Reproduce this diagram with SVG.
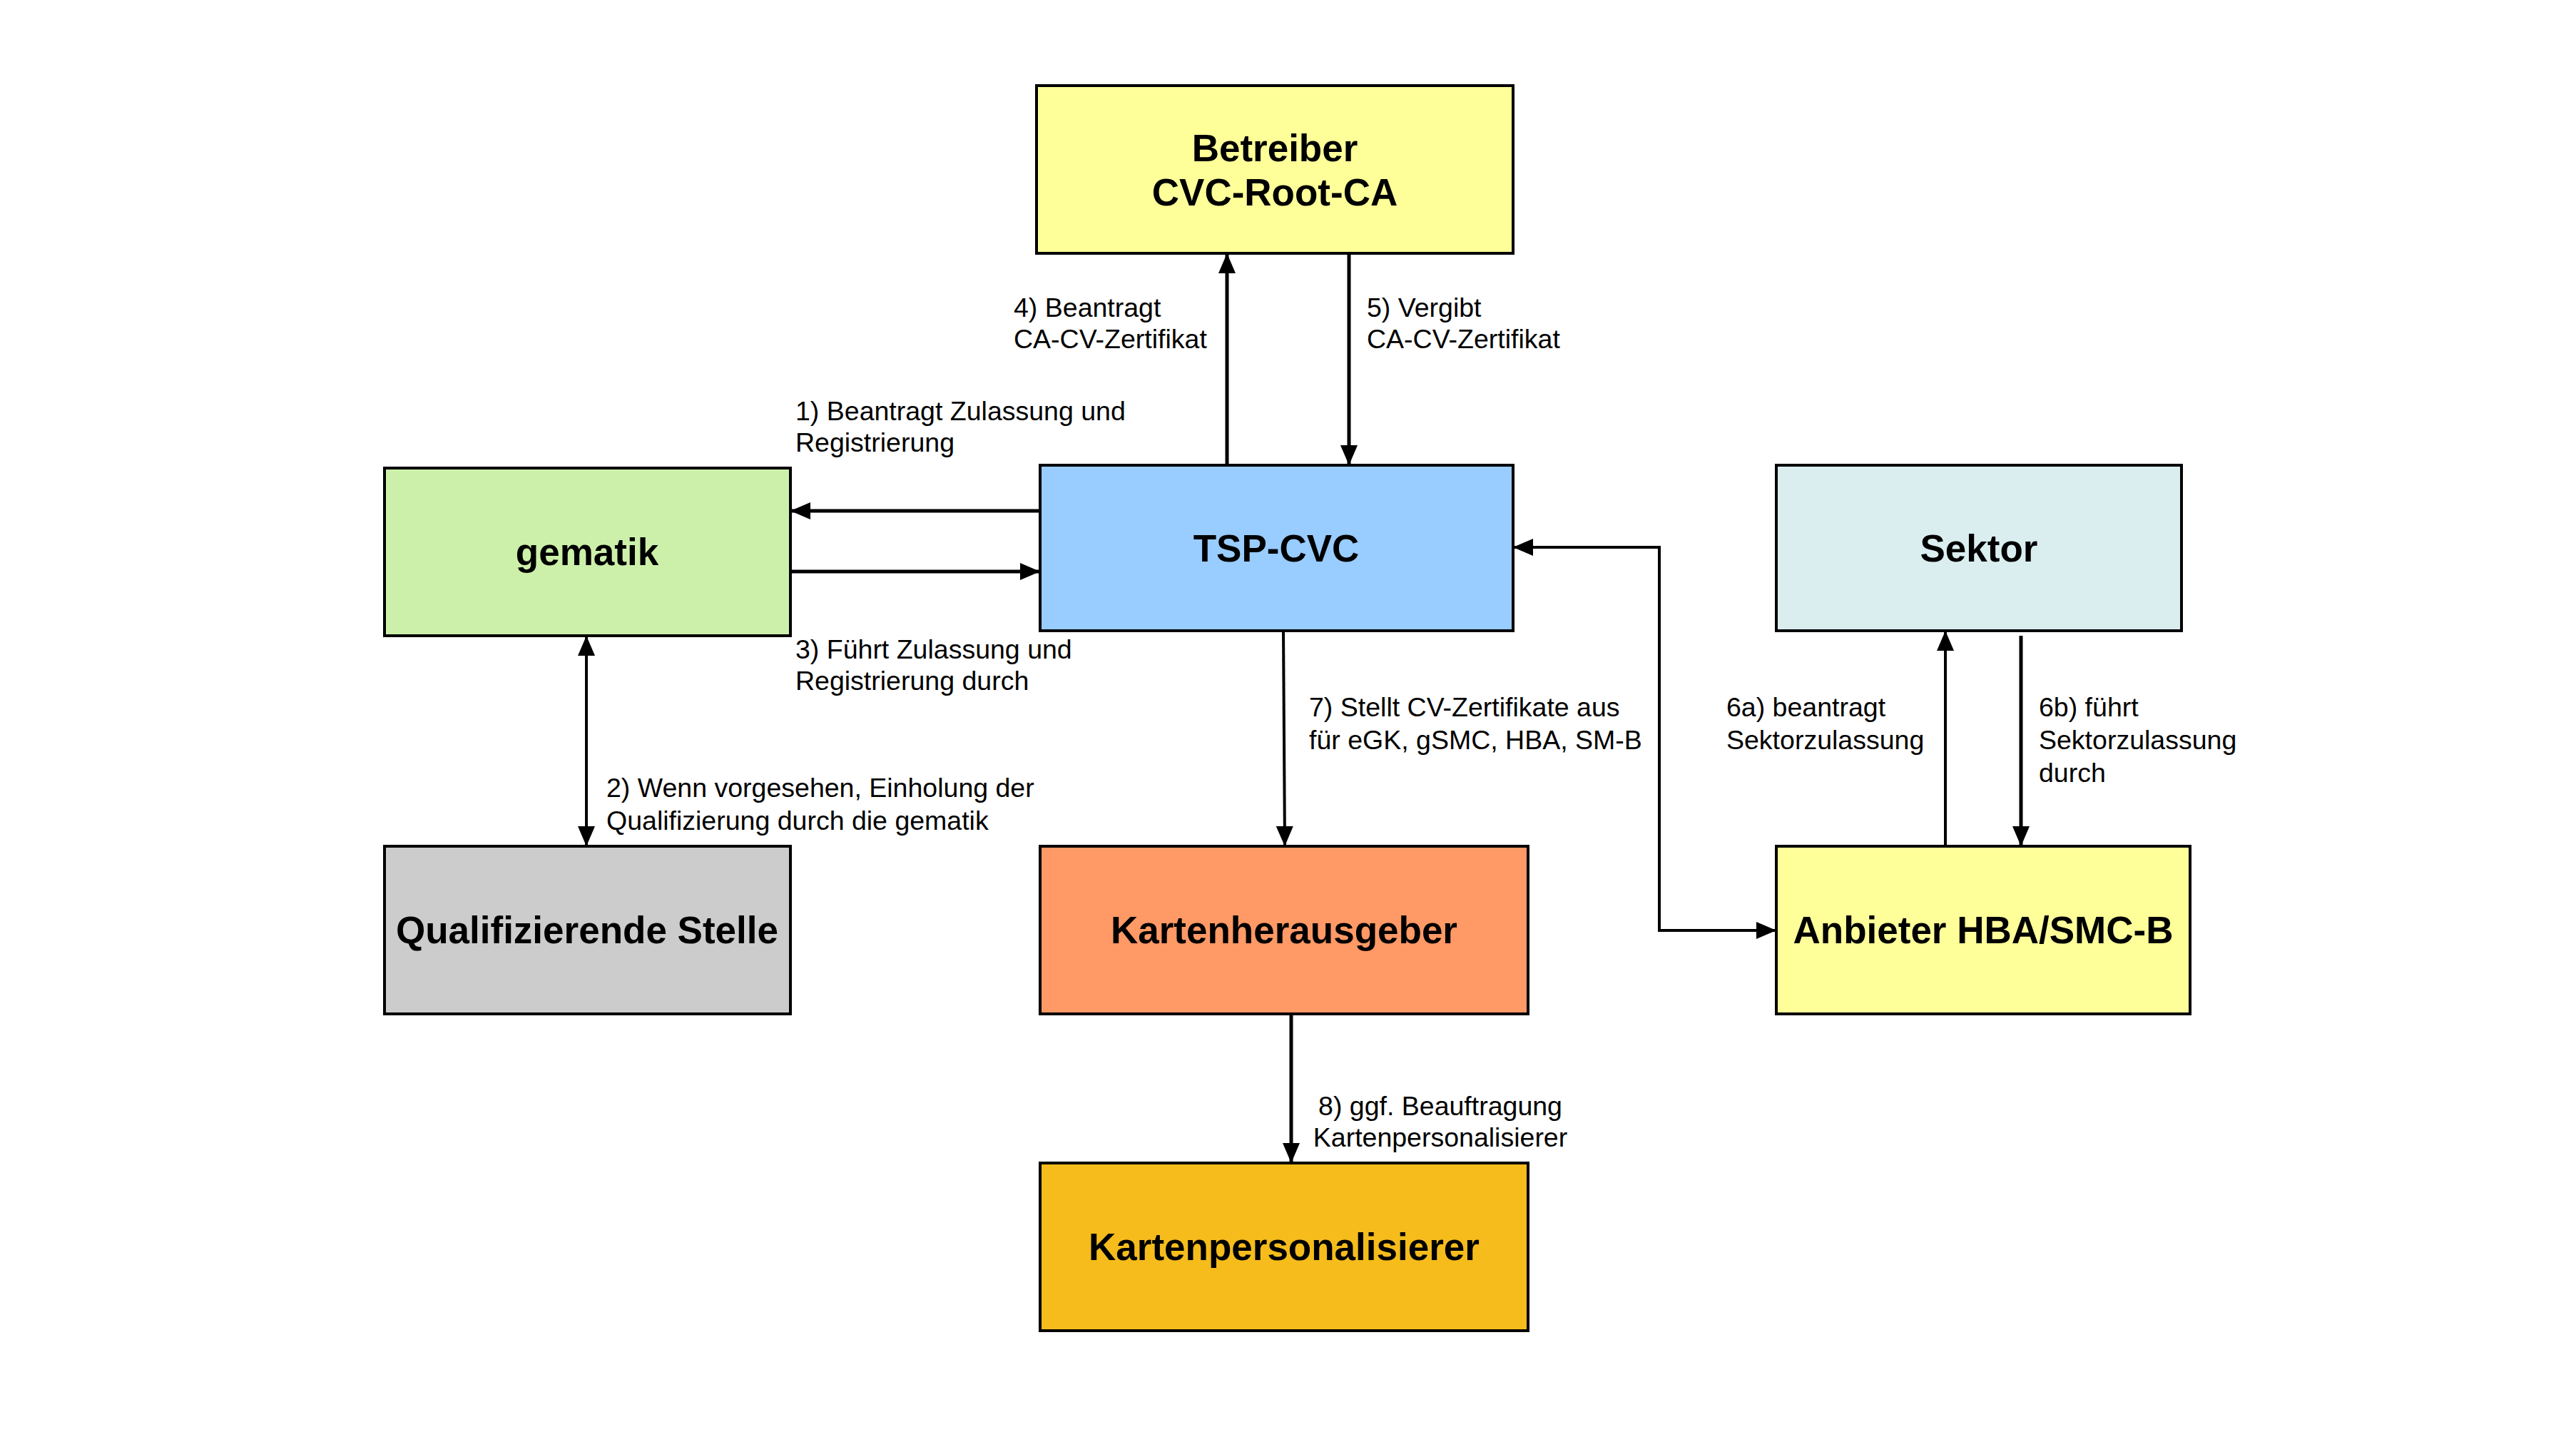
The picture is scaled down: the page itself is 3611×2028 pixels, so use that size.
<svg xmlns="http://www.w3.org/2000/svg" width="3611" height="2028" viewBox="0 0 3611 2028">
<style>
.box{stroke:#000;stroke-width:4}
.nl{font-family:"Liberation Sans",Arial,sans-serif;font-weight:bold;font-size:53px;text-anchor:middle;fill:#000}
.el{font-family:"Liberation Sans",Arial,sans-serif;font-size:37.5px;fill:#000}
.c{fill:none;stroke:#000;stroke-width:5}
.t{stroke-width:4}
</style>
<defs>
<marker id="ah" viewBox="0 0 28 24" refX="28" refY="12" markerWidth="28" markerHeight="24" markerUnits="userSpaceOnUse" orient="auto-start-reverse">
<path d="M0,0 L28,12 L0,24 z" fill="#000"/>
</marker>
</defs>
<rect width="3611" height="2028" fill="#fff"/>
<g id="connectors">
<path class="c" d="M1720,652 V355" marker-end="url(#ah)"/>
<path class="c" d="M1891,355 V652" marker-end="url(#ah)"/>
<path class="c" d="M1458,716 H1108" marker-end="url(#ah)"/>
<path class="c" d="M1108,801 H1458" marker-end="url(#ah)"/>
<path class="c t" d="M822,891 V1186" marker-start="url(#ah)" marker-end="url(#ah)"/>
<path class="c t" d="M1799,884 L1801,1186" marker-end="url(#ah)"/>
<path class="c t" d="M2121,767 H2326 V1304 H2490" marker-start="url(#ah)" marker-end="url(#ah)"/>
<path class="c t" d="M2727,1186 V884" marker-end="url(#ah)"/>
<path class="c" d="M2833,891 V1186" marker-end="url(#ah)"/>
<path class="c" d="M1810,1421 V1630" marker-end="url(#ah)"/>
<text class="el" x="1421" y="444">4) Beantragt</text>
<text class="el" x="1421" y="488">CA-CV-Zertifikat</text>
<text class="el" x="1916" y="444">5) Vergibt</text>
<text class="el" x="1916" y="488">CA-CV-Zertifikat</text>
<text class="el" x="1115" y="589">1) Beantragt Zulassung und</text>
<text class="el" x="1115" y="633">Registrierung</text>
<text class="el" x="1115" y="923">3) Führt Zulassung und</text>
<text class="el" x="1115" y="967">Registrierung durch</text>
<text class="el" x="850" y="1117">2) Wenn vorgesehen, Einholung der</text>
<text class="el" x="850" y="1163">Qualifizierung durch die gematik</text>
<text class="el" x="1835" y="1004">7) Stellt CV-Zertifikate aus</text>
<text class="el" x="1835" y="1050">für eGK, gSMC, HBA, SM-B</text>
<text class="el" x="2420" y="1004">6a) beantragt</text>
<text class="el" x="2420" y="1050">Sektorzulassung</text>
<text class="el" x="2858" y="1004">6b) führt</text>
<text class="el" x="2858" y="1050">Sektorzulassung</text>
<text class="el" x="2858" y="1096">durch</text>
<text class="el" x="2019" y="1563" text-anchor="middle">8) ggf. Beauftragung</text>
<text class="el" x="2019" y="1607" text-anchor="middle">Kartenpersonalisierer</text>
</g>
<g id="betreiber">
<rect class="box" x="1453" y="120" width="668" height="235" fill="#FFFF99"/>
<text class="nl" x="1787" y="226">Betreiber</text>
<text class="nl" x="1787" y="288">CVC-Root-CA</text>
</g>
<g id="tsp-cvc">
<rect class="box" x="1458" y="652" width="663" height="232" fill="#99CCFF"/>
<text class="nl" x="1789" y="787">TSP-CVC</text>
</g>
<g id="gematik">
<rect class="box" x="539" y="656" width="569" height="235" fill="#CCF0AA"/>
<text class="nl" x="823" y="792">gematik</text>
</g>
<g id="sektor">
<rect class="box" x="2490" y="652" width="568" height="232" fill="#DAEEF0"/>
<text class="nl" x="2774" y="787">Sektor</text>
</g>
<g id="qualifizierende-stelle">
<rect class="box" x="539" y="1186" width="569" height="235" fill="#CCCCCC"/>
<text class="nl" x="823" y="1322">Qualifizierende Stelle</text>
</g>
<g id="kartenherausgeber">
<rect class="box" x="1458" y="1186" width="684" height="235" fill="#FF9966"/>
<text class="nl" x="1800" y="1322">Kartenherausgeber</text>
</g>
<g id="anbieter">
<rect class="box" x="2490" y="1186" width="580" height="235" fill="#FFFF99"/>
<text class="nl" x="2780" y="1322">Anbieter HBA/SMC-B</text>
</g>
<g id="kartenpersonalisierer">
<rect class="box" x="1458" y="1630" width="684" height="235" fill="#F5BC1C"/>
<text class="nl" x="1800" y="1766">Kartenpersonalisierer</text>
</g>
</svg>
